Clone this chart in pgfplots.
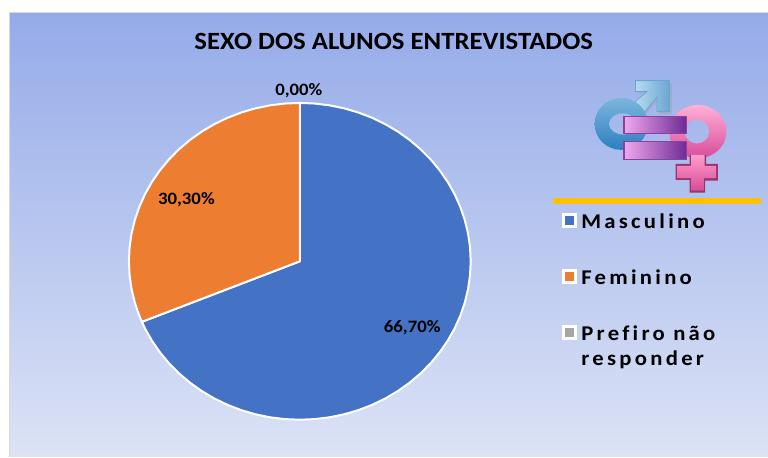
\documentclass[border=0pt]{standalone}
\usepackage{fontspec}
\usepackage{pgfplots}
\pgfplotsset{compat=1.18}
\setmainfont{Carlito}
\newfontfamily\legfont[LetterSpace=14.5,RawFeature={-liga}]{Carlito}
\definecolor{bgtop}{HTML}{95ABE9}
\definecolor{bgbot}{HTML}{DCE3F6}
\definecolor{cblue}{HTML}{4472C4}
\definecolor{corange}{HTML}{ED7D31}
\definecolor{cgray}{HTML}{A5A5A5}
\definecolor{cgold}{HTML}{FFC000}
\begin{document}
\begin{tikzpicture}[x=1pt,y=1pt]
\path (0,0) rectangle (768,457);
\shade[top color=bgtop,bottom color=bgbot,draw=none] (9.5,0) rectangle (768,444.5);
\draw[line width=1pt,color=black!15] (9.5,0) -- (9.5,444.5) -- (768,444.5);
% pixel axis: title, legend, rule
\begin{axis}[at={(0pt,0pt)},anchor=south west,scale only axis,width=768pt,height=457pt,
  xmin=0,xmax=768,ymin=0,ymax=457,y dir=reverse,hide axis,clip=false]
\addplot[cgold,line width=6pt,forget plot] coordinates {(553,201) (761,201)};
\addplot[only marks,mark=square*,mark size=6pt,mark options={draw=white,fill=cblue,line width=3pt},forget plot] coordinates {(569.5,221)};
\addplot[only marks,mark=square*,mark size=6pt,mark options={draw=white,fill=corange,line width=3pt},forget plot] coordinates {(569.5,277)};
\addplot[only marks,mark=square*,mark size=6pt,mark options={draw=white,fill=cgray,line width=3pt},forget plot] coordinates {(569.5,333)};
\node[xscale=1.08,font=\fontsize{24.8}{28}\selectfont\bfseries,text=black] at (axis cs:394,41) {SEXO DOS ALUNOS ENTREVISTADOS};
\node[xscale=1.08,anchor=west,inner sep=0pt,text=black,font=\fontsize{21}{24}\selectfont\bfseries\legfont] at (axis cs:581.5,221) {Masculino};
\node[xscale=1.08,anchor=west,inner sep=0pt,text=black,font=\fontsize{21}{24}\selectfont\bfseries\legfont] at (axis cs:581.5,277) {Feminino};
\node[xscale=1.08,anchor=west,inner sep=0pt,text=black,font=\fontsize{21}{24}\selectfont\bfseries\legfont] at (axis cs:581.5,333) {Prefiro não};
\node[xscale=1.08,anchor=west,inner sep=0pt,text=black,font=\fontsize{21}{24}\selectfont\bfseries\legfont] at (axis cs:581.5,360) {responder};
\end{axis}
% pie: 66.7 / 30.3 / 0.0 of 97, clockwise from the top
\begin{axis}[at={(300pt,195.5pt)},anchor=center,scale only axis,width=342pt,height=317pt,
  xmin=-1,xmax=1,ymin=-1,ymax=1,hide axis,clip=false,data cs=polar]
\addplot[fill=cblue,draw=white,line width=2pt,line join=round] coordinates {
(0,0) (90,1) (85,1) (80,1) (75,1) (70,1) (65,1) (60,1) (55,1) (50,1) (45,1) (40,1) (35,1) (30,1) (25,1) (20,1) (15,1) (10,1) (5,1) (0,1)
(-5,1) (-10,1) (-15,1) (-20,1) (-25,1) (-30,1) (-35,1) (-40,1) (-45,1) (-50,1) (-55,1) (-60,1) (-65,1) (-70,1) (-75,1) (-80,1) (-85,1) (-90,1)
(-95,1) (-100,1) (-105,1) (-110,1) (-115,1) (-120,1) (-125,1) (-130,1) (-135,1) (-140,1) (-145,1) (-150,1) (-155,1) (-157.55,1) (0,0)} \closedcycle;
\addplot[fill=corange,draw=white,line width=2pt,line join=round] coordinates {
(0,0) (-157.55,1) (-160,1) (-165,1) (-170,1) (-175,1) (-180,1) (-185,1) (-190,1) (-195,1) (-200,1) (-205,1) (-210,1) (-215,1) (-220,1) (-225,1) (-230,1) (-235,1) (-240,1) (-245,1) (-250,1) (-255,1) (-260,1) (-265,1) (-270,1) (0,0)} \closedcycle;
\end{axis}
\begin{scope}[font=\fontsize{17.4}{20}\selectfont\bfseries,text=black]
\node[xscale=1.08] at (412.5,129.5) {66,70\%};
\node[xscale=1.08] at (186.5,257.5) {30,30\%};
\node[xscale=1.08] at (299,366.5) {0,00\%};
\end{scope}
% icon
\begin{scope}[shift={(540,397)},x=0.3333pt,y=-0.3333pt]
\definecolor{mlight}{HTML}{BFE2F2}\definecolor{mdark}{HTML}{2C7FC0}
\definecolor{plight}{HTML}{FF9CCB}\definecolor{pdark}{HTML}{D84C9A}
% male arrow
\fill[black!40,opacity=.35] (295,70) -- (397,70) -- (397,163) -- (358,163) -- (358,118) -- (310,172) -- (280,145) -- (328,100) -- (295,100) -- cycle;
\shade[left color=mlight,right color=mdark!70!white,draw=mdark!70!white,line width=0.8pt]
 (288,62) -- (390,62) -- (390,155) -- (352,155) -- (352,112) -- (308,165) -- (275,135) -- (322,95) -- (288,95) -- cycle;
\shade[even odd rule,top color=mlight!55!mdark,bottom color=mdark]
 (245,192) ellipse[x radius=80,y radius=78] (250,192) ellipse[x radius=42,y radius=32];
% female
\shade[even odd rule,top color=plight!80!white,bottom color=pdark]
 (475,215) ellipse[x radius=86,y radius=80] (472,215) ellipse[x radius=37,y radius=36];
\fill[pdark!70!black] (450,285) -- (500,285) -- (500,312) -- (535,312) -- (535,362) -- (497,362) -- (497,398) -- (450,398) -- (450,360) -- (408,360) -- (408,312) -- (450,312) -- cycle;
\shade[top color=plight,bottom color=pdark]
 (455,285) -- (495,285) -- (495,318) -- (530,318) -- (530,355) -- (493,355) -- (493,392) -- (455,392) -- (455,355) -- (414,355) -- (414,318) -- (455,318) -- cycle;
% equals bars
\definecolor{bl}{HTML}{EFA8EE}\definecolor{br}{HTML}{6E2C96}\definecolor{bb}{HTML}{8E3FA0}
\shade[left color=bl,right color=br,draw=bb,line width=1.2pt] (253,170) rectangle (440,222);
\shade[left color=bl,right color=br,draw=bb,line width=1.2pt] (253,246) rectangle (440,298);
\end{scope}
\end{tikzpicture}
\end{document}
